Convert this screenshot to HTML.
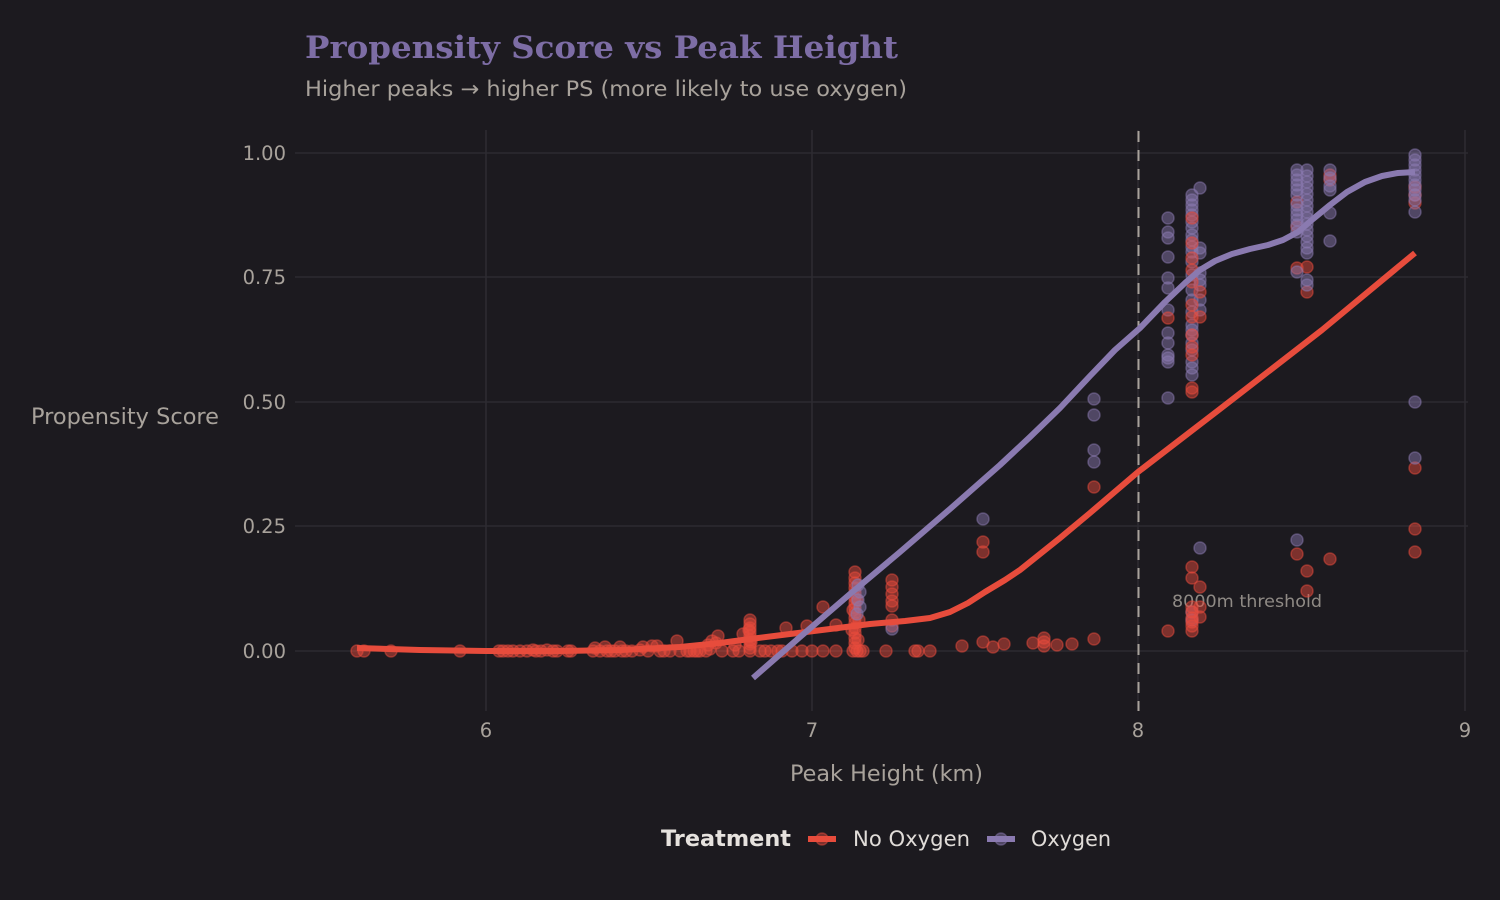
<!DOCTYPE html>
<html><head><meta charset="utf-8"><style>
html,body{margin:0;padding:0;background:#1c1a1f;width:1500px;height:900px;overflow:hidden}
svg{display:block}
.r circle{fill:#e74c3c;fill-opacity:.48;stroke:#e74c3c;stroke-opacity:.48;stroke-width:1.5}
.p circle{fill:#8a7ab0;fill-opacity:.48;stroke:#8a7ab0;stroke-opacity:.48;stroke-width:1.5}
text{font-family:"DejaVu Sans","Liberation Sans",sans-serif}
</style></head><body>
<svg width="1500" height="900" viewBox="0 0 1500 900" xmlns="http://www.w3.org/2000/svg">
<rect width="1500" height="900" fill="#1c1a1f"/>
<!-- grid -->
<g stroke="#2d2b31" stroke-width="1.6">
<line x1="295" y1="153" x2="1468" y2="153"/>
<line x1="295" y1="277" x2="1468" y2="277"/>
<line x1="295" y1="402" x2="1468" y2="402"/>
<line x1="295" y1="526" x2="1468" y2="526"/>
<line x1="295" y1="651" x2="1468" y2="651"/>
<line x1="486" y1="130" x2="486" y2="711"/>
<line x1="812" y1="130" x2="812" y2="711"/>
<line x1="1138" y1="130" x2="1138" y2="711"/>
<line x1="1465" y1="130" x2="1465" y2="711"/>
</g>
<!-- threshold -->
<line x1="1138.5" y1="131" x2="1138.5" y2="711" stroke="#a8a29b" stroke-width="2" stroke-dasharray="11,8"/>
<text x="1172" y="607" font-size="16.5" fill="#8f8a85" textLength="150" lengthAdjust="spacingAndGlyphs">8000m threshold</text>

<!-- red baseline points -->
<g class="r">
<circle cx="357" cy="651" r="6"/><circle cx="364" cy="651" r="6"/><circle cx="391" cy="651" r="6"/><circle cx="460" cy="651" r="6"/>
<circle cx="499" cy="651" r="6"/><circle cx="503" cy="651" r="6"/><circle cx="508" cy="651" r="6"/><circle cx="513" cy="651" r="6"/>
<circle cx="520" cy="651" r="6"/><circle cx="527" cy="651" r="6"/><circle cx="533" cy="650" r="6"/><circle cx="536" cy="651" r="6"/>
<circle cx="541" cy="651" r="6"/><circle cx="547" cy="650" r="6"/><circle cx="553" cy="651" r="6"/><circle cx="557" cy="651" r="6"/>
<circle cx="568" cy="651" r="6"/><circle cx="571" cy="651" r="6"/><circle cx="593" cy="651" r="6"/><circle cx="595" cy="648" r="6"/>
<circle cx="600" cy="651" r="6"/><circle cx="605" cy="647" r="6"/><circle cx="607" cy="651" r="6"/><circle cx="611" cy="651" r="6"/>
<circle cx="615" cy="651" r="6"/><circle cx="620" cy="647" r="6"/><circle cx="622" cy="651" r="6"/><circle cx="626" cy="651" r="6"/>
<circle cx="632" cy="651" r="6"/><circle cx="640" cy="650" r="6"/><circle cx="643" cy="647" r="6"/><circle cx="648" cy="651" r="6"/>
<circle cx="652" cy="646" r="6"/><circle cx="657" cy="646" r="6"/><circle cx="660" cy="651" r="6"/><circle cx="664" cy="651" r="6"/>
<circle cx="670" cy="651" r="6"/><circle cx="677" cy="641" r="6"/><circle cx="680" cy="651" r="6"/><circle cx="687" cy="651" r="6"/>
<circle cx="690" cy="651" r="6"/><circle cx="694" cy="651" r="6"/><circle cx="697" cy="651" r="6"/><circle cx="700" cy="651" r="6"/>
<circle cx="706" cy="651" r="6"/><circle cx="708" cy="645" r="6"/><circle cx="710" cy="649" r="6"/><circle cx="712" cy="641" r="6"/>
<circle cx="716" cy="643" r="6"/><circle cx="718" cy="636" r="6"/><circle cx="722" cy="651" r="6"/><circle cx="733" cy="651" r="6"/>
<circle cx="735" cy="645" r="6"/><circle cx="739" cy="651" r="6"/><circle cx="743" cy="634" r="6"/><circle cx="760" cy="651" r="6"/>
<circle cx="765" cy="651" r="6"/><circle cx="771" cy="651" r="6"/><circle cx="778" cy="651" r="6"/><circle cx="782" cy="651" r="6"/>
<circle cx="786" cy="628" r="6"/><circle cx="792" cy="651" r="6"/><circle cx="802" cy="651" r="6"/><circle cx="807" cy="626" r="6"/>
<circle cx="812" cy="651" r="6"/><circle cx="823" cy="607" r="6"/><circle cx="823" cy="651" r="6"/><circle cx="836" cy="625" r="6"/>
<circle cx="836" cy="651" r="6"/><circle cx="853" cy="651" r="6"/><circle cx="857" cy="651" r="6"/><circle cx="860" cy="651" r="6"/>
<circle cx="863" cy="651" r="6"/><circle cx="886" cy="651" r="6"/><circle cx="915" cy="651" r="6"/><circle cx="918" cy="651" r="6"/>
<circle cx="930" cy="651" r="6"/><circle cx="962" cy="646" r="6"/><circle cx="983" cy="642" r="6"/><circle cx="993" cy="647" r="6"/>
<circle cx="1004" cy="644" r="6"/><circle cx="1033" cy="643" r="6"/><circle cx="1044" cy="638" r="6"/><circle cx="1044" cy="642" r="6"/>
<circle cx="1044" cy="646" r="6"/><circle cx="1057" cy="645" r="6"/><circle cx="1072" cy="644" r="6"/><circle cx="1094" cy="639" r="6"/>
<!-- 6.81 cluster -->
<circle cx="750" cy="620" r="6"/><circle cx="750" cy="624" r="6"/><circle cx="750" cy="628" r="6"/><circle cx="749" cy="630" r="6"/>
<circle cx="750" cy="632" r="6"/><circle cx="750" cy="636" r="6"/><circle cx="750" cy="640" r="6"/><circle cx="751" cy="642" r="6"/>
<circle cx="750" cy="644" r="6"/><circle cx="750" cy="648" r="6"/><circle cx="750" cy="651" r="6"/>
<!-- 7.13 cluster -->
<circle cx="855" cy="572" r="6"/><circle cx="855" cy="578" r="6"/><circle cx="855" cy="583" r="6"/><circle cx="855" cy="588" r="6"/>
<circle cx="855" cy="593" r="6"/><circle cx="855" cy="598" r="6"/><circle cx="855" cy="603" r="6"/><circle cx="855" cy="608" r="6"/>
<circle cx="855" cy="613" r="6"/><circle cx="855" cy="618" r="6"/><circle cx="855" cy="623" r="6"/><circle cx="855" cy="628" r="6"/>
<circle cx="855" cy="633" r="6"/><circle cx="855" cy="638" r="6"/><circle cx="855" cy="643" r="6"/><circle cx="855" cy="648" r="6"/>
<circle cx="857" cy="600" r="6"/><circle cx="853" cy="610" r="6"/><circle cx="859" cy="620" r="6"/><circle cx="852" cy="630" r="6"/><circle cx="858" cy="640" r="6"/>
<!-- 7.25 -->
<circle cx="892" cy="580" r="6"/><circle cx="892" cy="587" r="6"/><circle cx="892" cy="594" r="6"/><circle cx="892" cy="601" r="6"/>
<circle cx="892" cy="606" r="6"/><circle cx="892" cy="620" r="6"/><circle cx="892" cy="626" r="6"/>
<circle cx="983" cy="542" r="6"/><circle cx="983" cy="552" r="6"/>
<circle cx="1094" cy="487" r="6"/>
</g>
<g class="p">
<circle cx="858" cy="585" r="6"/><circle cx="860" cy="592" r="6"/><circle cx="858" cy="600" r="6"/><circle cx="860" cy="607" r="6"/><circle cx="857" cy="614" r="6"/>
<circle cx="892" cy="629" r="6"/>
<circle cx="983" cy="519" r="6"/>
<circle cx="1094" cy="399" r="6"/><circle cx="1094" cy="415" r="6"/><circle cx="1094" cy="450" r="6"/><circle cx="1094" cy="462" r="6"/>
<!-- 8.09 -->
<circle cx="1168" cy="218" r="6"/><circle cx="1168" cy="232" r="6"/><circle cx="1168" cy="238" r="6"/><circle cx="1168" cy="257" r="6"/>
<circle cx="1168" cy="278" r="6"/><circle cx="1168" cy="288" r="6"/><circle cx="1168" cy="310" r="6"/><circle cx="1168" cy="333" r="6"/>
<circle cx="1168" cy="343" r="6"/><circle cx="1168" cy="355" r="6"/><circle cx="1168" cy="358" r="6"/><circle cx="1168" cy="362" r="6"/>
<circle cx="1168" cy="398" r="6"/>
<!-- 8.17 -->
<circle cx="1192" cy="195" r="6"/><circle cx="1192" cy="200" r="6"/><circle cx="1192" cy="205" r="6"/><circle cx="1192" cy="210" r="6"/>
<circle cx="1192" cy="215" r="6"/><circle cx="1192" cy="222" r="6"/><circle cx="1192" cy="228" r="6"/><circle cx="1192" cy="235" r="6"/>
<circle cx="1192" cy="240" r="6"/><circle cx="1192" cy="247" r="6"/><circle cx="1192" cy="252" r="6"/><circle cx="1192" cy="262" r="6"/>
<circle cx="1192" cy="275" r="6"/><circle cx="1192" cy="290" r="6"/><circle cx="1192" cy="300" r="6"/><circle cx="1192" cy="312" r="6"/>
<circle cx="1192" cy="325" r="6"/><circle cx="1192" cy="330" r="6"/><circle cx="1192" cy="335" r="6"/><circle cx="1192" cy="343" r="6"/>
<circle cx="1192" cy="350" r="6"/><circle cx="1192" cy="362" r="6"/><circle cx="1192" cy="368" r="6"/><circle cx="1192" cy="375" r="6"/>
<circle cx="1192" cy="612" r="6"/><circle cx="1192" cy="620" r="6"/>
<circle cx="1200" cy="188" r="6"/><circle cx="1200" cy="248" r="6"/><circle cx="1200" cy="253" r="6"/><circle cx="1200" cy="273" r="6"/>
<circle cx="1200" cy="280" r="6"/><circle cx="1200" cy="285" r="6"/><circle cx="1200" cy="300" r="6"/><circle cx="1200" cy="310" r="6"/>
<circle cx="1200" cy="548" r="6"/>
</g>
<g class="r">
<circle cx="1168" cy="318" r="6"/><circle cx="1168" cy="631" r="6"/>
<circle cx="1192" cy="218" r="6"/><circle cx="1192" cy="243" r="6"/><circle cx="1192" cy="258" r="6"/><circle cx="1192" cy="270" r="6"/>
<circle cx="1192" cy="282" r="6"/><circle cx="1192" cy="305" r="6"/><circle cx="1192" cy="317" r="6"/><circle cx="1192" cy="335" r="6"/>
<circle cx="1192" cy="347" r="6"/><circle cx="1192" cy="355" r="6"/><circle cx="1192" cy="388" r="6"/><circle cx="1192" cy="392" r="6"/>
<circle cx="1192" cy="567" r="6"/><circle cx="1192" cy="578" r="6"/><circle cx="1192" cy="607" r="6"/><circle cx="1192" cy="612" r="6"/>
<circle cx="1192" cy="618" r="6"/><circle cx="1192" cy="622" r="6"/><circle cx="1192" cy="626" r="6"/><circle cx="1192" cy="631" r="6"/>
<circle cx="1200" cy="292" r="6"/><circle cx="1200" cy="317" r="6"/><circle cx="1200" cy="587" r="6"/><circle cx="1200" cy="607" r="6"/><circle cx="1200" cy="617" r="6"/>
<!-- 8.5 area -->
<circle cx="1297" cy="202" r="6"/><circle cx="1297" cy="227" r="6"/><circle cx="1297" cy="268" r="6"/><circle cx="1297" cy="554" r="6"/>
<circle cx="1307" cy="267" r="6"/><circle cx="1307" cy="292" r="6"/><circle cx="1307" cy="571" r="6"/><circle cx="1307" cy="591" r="6"/>
<circle cx="1330" cy="175" r="6"/><circle cx="1330" cy="180" r="6"/><circle cx="1330" cy="559" r="6"/>
<circle cx="1415" cy="187" r="6"/><circle cx="1415" cy="195" r="6"/><circle cx="1415" cy="203" r="6"/><circle cx="1415" cy="468" r="6"/>
<circle cx="1415" cy="529" r="6"/><circle cx="1415" cy="552" r="6"/>
</g>
<g class="p">
<circle cx="1297" cy="170" r="6"/><circle cx="1297" cy="175" r="6"/><circle cx="1297" cy="180" r="6"/><circle cx="1297" cy="185" r="6"/>
<circle cx="1297" cy="190" r="6"/><circle cx="1297" cy="195" r="6"/><circle cx="1297" cy="205" r="6"/><circle cx="1297" cy="210" r="6"/>
<circle cx="1297" cy="215" r="6"/><circle cx="1297" cy="220" r="6"/><circle cx="1297" cy="225" r="6"/><circle cx="1297" cy="232" r="6"/>
<circle cx="1297" cy="272" r="6"/><circle cx="1297" cy="540" r="6"/>
<circle cx="1307" cy="170" r="6"/><circle cx="1307" cy="176" r="6"/><circle cx="1307" cy="182" r="6"/><circle cx="1307" cy="188" r="6"/>
<circle cx="1307" cy="194" r="6"/><circle cx="1307" cy="200" r="6"/><circle cx="1307" cy="206" r="6"/><circle cx="1307" cy="212" r="6"/>
<circle cx="1307" cy="218" r="6"/><circle cx="1307" cy="224" r="6"/><circle cx="1307" cy="230" r="6"/><circle cx="1307" cy="236" r="6"/>
<circle cx="1307" cy="242" r="6"/><circle cx="1307" cy="248" r="6"/><circle cx="1307" cy="253" r="6"/><circle cx="1307" cy="280" r="6"/>
<circle cx="1307" cy="285" r="6"/>
<circle cx="1330" cy="170" r="6"/><circle cx="1330" cy="178" r="6"/><circle cx="1330" cy="186" r="6"/><circle cx="1330" cy="190" r="6"/>
<circle cx="1330" cy="213" r="6"/><circle cx="1330" cy="241" r="6"/>
<circle cx="1415" cy="155" r="6"/><circle cx="1415" cy="160" r="6"/><circle cx="1415" cy="165" r="6"/><circle cx="1415" cy="170" r="6"/>
<circle cx="1415" cy="175" r="6"/><circle cx="1415" cy="180" r="6"/><circle cx="1415" cy="185" r="6"/><circle cx="1415" cy="190" r="6"/>
<circle cx="1415" cy="195" r="6"/><circle cx="1415" cy="200" r="6"/><circle cx="1415" cy="212" r="6"/><circle cx="1415" cy="402" r="6"/>
<circle cx="1415" cy="458" r="6"/>
</g>

<!-- smooth lines -->
<polyline fill="none" stroke="#e74c3c" stroke-width="6" stroke-linejoin="round" stroke-linecap="butt"
points="357,648 420,650 486,651 560,651 620,650 680,647 720,643 750,639 790,634 830,629 870,624 905,621 930,618 950,612 968,603 985,592 1005,580 1020,570 1035,558 1060,538 1090,513 1138,472 1220,409 1322,330 1415,253"/>
<polyline fill="none" stroke="#8a7ab0" stroke-width="6" stroke-linejoin="round" stroke-linecap="butt"
points="753,678 800,637 850,594 900,552 950,509 1000,465 1030,437 1060,408 1090,376 1115,350 1140,328 1165,302 1185,283 1200,270 1215,261 1232,254 1250,249 1268,245 1283,240 1298,232 1313,219 1330,205 1347,192 1365,182 1382,176 1398,173 1415,172"/>

<!-- axis tick labels -->
<g font-size="19.5" fill="#a8a29b" text-anchor="end">
<text x="286" y="160">1.00</text>
<text x="286" y="284">0.75</text>
<text x="286" y="409">0.50</text>
<text x="286" y="533">0.25</text>
<text x="286" y="658">0.00</text>
</g>
<g font-size="19.5" fill="#a8a29b" text-anchor="middle">
<text x="486" y="737">6</text>
<text x="812" y="737">7</text>
<text x="1138" y="737">8</text>
<text x="1465" y="737">9</text>
</g>
<text x="886.5" y="781" font-size="22" fill="#a8a29b" text-anchor="middle" textLength="193" lengthAdjust="spacingAndGlyphs">Peak Height (km)</text>
<text x="31" y="424" font-size="22" fill="#a8a29b" textLength="188" lengthAdjust="spacingAndGlyphs">Propensity Score</text>

<!-- title -->
<text x="305" y="58" font-weight="bold" font-size="31" fill="#7d6da5" textLength="593" lengthAdjust="spacingAndGlyphs" style="font-family:'DejaVu Serif','Liberation Serif',serif">Propensity Score vs Peak Height</text>
<text x="305" y="96" font-size="21.5" fill="#a8a29b" textLength="602" lengthAdjust="spacingAndGlyphs">Higher peaks → higher PS (more likely to use oxygen)</text>

<!-- legend -->
<text x="661" y="846" font-size="22" font-weight="bold" fill="#e6e2de" textLength="130" lengthAdjust="spacingAndGlyphs">Treatment</text>
<circle cx="822" cy="839" r="6" fill="#e74c3c" fill-opacity=".48" stroke="#e74c3c" stroke-opacity=".48" stroke-width="1.5"/>
<line x1="808" y1="839" x2="836" y2="839" stroke="#e74c3c" stroke-width="6"/>
<text x="853" y="846" font-size="21" fill="#e0dcd8" textLength="117" lengthAdjust="spacingAndGlyphs">No Oxygen</text>
<circle cx="1001" cy="839" r="6" fill="#8a7ab0" fill-opacity=".48" stroke="#8a7ab0" stroke-opacity=".48" stroke-width="1.5"/>
<line x1="987" y1="839" x2="1015" y2="839" stroke="#8a7ab0" stroke-width="6"/>
<text x="1031" y="846" font-size="21" fill="#e0dcd8" textLength="80" lengthAdjust="spacingAndGlyphs">Oxygen</text>
</svg>
</body></html>
